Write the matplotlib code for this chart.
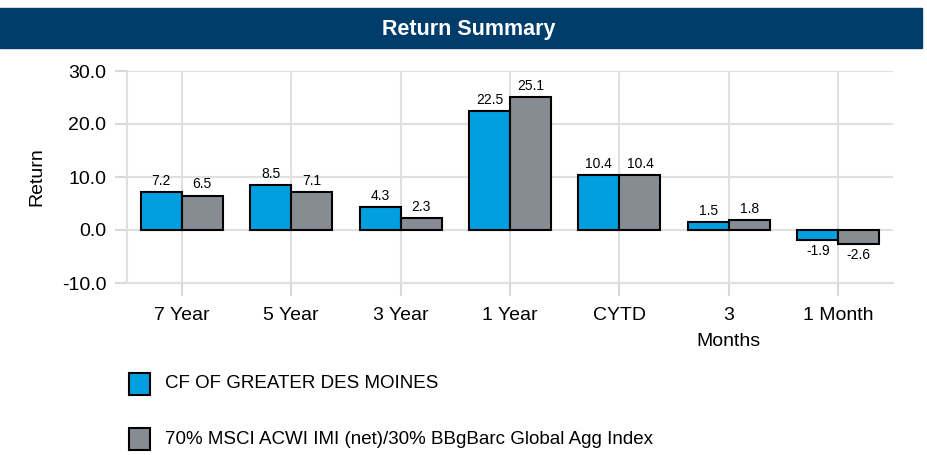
import numpy as np
import matplotlib.pyplot as plt
from matplotlib.patches import Rectangle
from matplotlib import font_manager

categories = ["7 Year", "5 Year", "3 Year", "1 Year", "CYTD", "3\nMonths", "1 Month"]
fund = [7.2, 8.5, 4.3, 22.5, 10.4, 1.5, -1.9]
bench = [6.5, 7.1, 2.3, 25.1, 10.4, 1.8, -2.6]
series_names = ["CF OF GREATER DES MOINES",
                "70% MSCI ACWI IMI (net)/30% BBgBarc Global Agg Index"]

blue = "#009FDF"
gray = "#878C93"
navy = "#003D6B"

names = {f.name for f in font_manager.fontManager.ttflist}
font = "Liberation Sans Narrow" if "Liberation Sans Narrow" in names else "Liberation Sans"
plt.rcParams["font.family"] = [font, "DejaVu Sans"]

fig = plt.figure(figsize=(9.28, 4.55), dpi=100)
W, H = 928, 455

# header band
fig.patches.append(Rectangle((0, 1 - 48 / H), 922 / W, 40 / H,
                             transform=fig.transFigure, color=navy, zorder=0))
fig.text(469 / W, 1 - 29 / H, "Return Summary", color="white", fontsize=15.5,
         fontweight="bold", ha="center", va="center")

ax = fig.add_axes([127 / W, 1 - 283 / H, 766 / W, 212 / H])
x = np.arange(len(categories))
w = 0.375
b1 = ax.bar(x - w / 2, fund, w, color=blue, edgecolor="black", linewidth=1.5, zorder=3)
b2 = ax.bar(x + w / 2, bench, w, color=gray, edgecolor="black", linewidth=1.5, zorder=3)

for bars, vals in ((b1, fund), (b2, bench)):
    for r, v in zip(bars, vals):
        off = 3 if v >= 0 else -3
        ax.annotate(f"{v:.1f}", (r.get_x() + r.get_width() / 2, v),
                    xytext=(0, off), textcoords="offset points", ha="center",
                    va="bottom" if v >= 0 else "top", fontsize=10)

ax.set_xlim(-0.5, len(categories) - 0.5)
ax.set_ylim(-10, 30)
ax.set_yticks([-10, 0, 10, 20, 30])
ax.set_yticklabels([f"{t:.1f}" for t in [-10, 0, 10, 20, 30]])
ax.set_xticks(x)
ax.set_xticklabels(categories, linespacing=1.7)
ax.tick_params(axis="both", labelsize=14, color="#D9D9D9", width=1.5, length=9)
ax.tick_params(axis="x", pad=8)
ax.tick_params(axis="y", pad=6)
ax.grid(True, color="#E0E0E0", linewidth=1.5, zorder=0)
for s in ["top", "right"]:
    ax.spines[s].set_visible(False)
for s in ["left", "bottom"]:
    ax.spines[s].set_color("#E0E0E0")
    ax.spines[s].set_linewidth(1.5)
ax.set_ylabel("Return", fontsize=14, labelpad=12)

# legend
for i, (name, col) in enumerate(zip(series_names, [blue, gray])):
    yc = 384 + i * 55
    fig.patches.append(Rectangle((129 / W, 1 - (yc + 11) / H), 21 / W, 22 / H,
                                 transform=fig.transFigure, facecolor=col,
                                 edgecolor="black", linewidth=1.5))
    fig.text(165 / W, 1 - yc / H, name, fontsize=13.5, va="center")

fig.savefig("out.png", dpi=100)
